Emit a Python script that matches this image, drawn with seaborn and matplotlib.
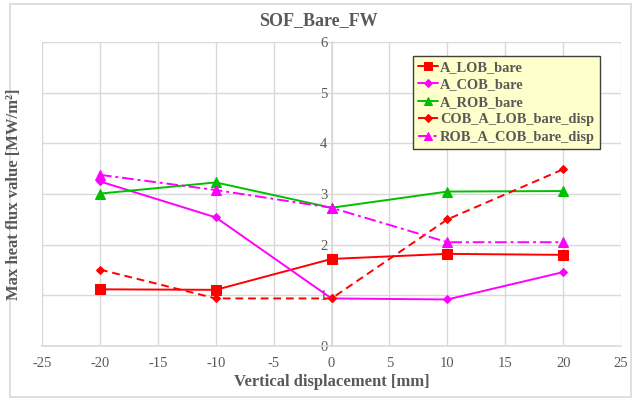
#!/usr/bin/env python3

import matplotlib
matplotlib.use("Agg")
import matplotlib.pyplot as plt
from matplotlib.patches import Rectangle
import pandas as pd
import seaborn as sns

# Data
displacement = [-20, -10, 0, 10, 20]
a_lob_bare = [1.12, 1.11, 1.72, 1.82, 1.80]
a_cob_bare = [3.25, 2.54, 0.94, 0.92, 1.46]
a_rob_bare = [3.01, 3.23, 2.73, 3.05, 3.06]
cob_a_lob_bare_disp = [1.51, 0.94, 0.94, 2.50, 3.49]
rob_a_cob_bare_disp = [3.38, 3.08, 2.73, 2.05, 2.05]

series_names = ["A_LOB_bare", "A_COB_bare", "A_ROB_bare",
                "COB_A_LOB_bare_disp", "ROB_A_COB_bare_disp"]
series_values = [a_lob_bare, a_cob_bare, a_rob_bare,
                 cob_a_lob_bare_disp, rob_a_cob_bare_disp]

x_ticks = list(range(-25, 30, 5))
y_ticks = list(range(0, 7))

TEXT = "#595959"
GRID = "#D9D9D9"

sns.set_theme(style="white")
plt.rcParams["font.family"] = ["Liberation Serif", "DejaVu Serif"]
plt.rcParams["axes.unicode_minus"] = False

# styles per series: colour, marker, marker size, dashes
STYLES = {
    "A_LOB_bare": ("#FF0000", "s", 6.5, ""),
    "A_COB_bare": ("#FF00FF", "D", 4.5, ""),
    "A_ROB_bare": ("#00C000", "^", 6.5, ""),
    "COB_A_LOB_bare_disp": ("#FF0000", "D", 4.5, (4, 2.5)),
    "ROB_A_COB_bare_disp": ("#FF00FF", "^", 6.5, (6, 2, 1.5, 2)),
}

rows = []
for name, vals in zip(series_names, series_values):
    for x, y in zip(displacement, vals):
        rows.append({"disp": x, "value": y, "series": name})
df = pd.DataFrame(rows)

fig = plt.figure(figsize=(6.37, 4.01), dpi=100)
ax = fig.add_axes([0.066, 0.137, 0.909, 0.758])

for name in series_names:
    color, marker, ms, dashes = STYLES[name]
    sub = df[df["series"] == name]
    sns.lineplot(data=sub, x="disp", y="value", ax=ax, color=color,
                 marker=marker, markersize=ms, markeredgecolor=color,
                 linewidth=1.4, label=name, zorder=3)
    l = ax.lines[-1]
    if dashes:
        l.set_dashes(dashes)

ax.set_xlim(-25, 25)
ax.set_ylim(0, 6)
ax.set_xticks(x_ticks)
ax.set_yticks(y_ticks)
ax.grid(True, color=GRID, linewidth=1)
ax.set_axisbelow(True)

for s in ["top", "right"]:
    ax.spines[s].set_visible(False)
ax.spines["left"].set_position(("data", 0))
ax.spines["left"].set_color(GRID)
ax.spines["left"].set_linewidth(1.2)
ax.spines["bottom"].set_color(GRID)
ax.spines["bottom"].set_linewidth(1.2)

ax.tick_params(axis="both", colors=TEXT, labelsize=10.5, length=0)
ax.tick_params(axis="x", pad=8)
ax.tick_params(axis="y", pad=3)

ax.set_xlabel("Vertical displacement [mm]", color=TEXT, fontsize=12,
              fontweight="bold", labelpad=3)
ax.set_ylabel("")
fig.text(0.022, 0.516, "Max heat flux value [MW/m²]", color=TEXT,
         fontsize=12, fontweight="bold", rotation=90, ha="center", va="center")
fig.text(0.5, 0.95, "SOF_Bare_FW", color=TEXT, fontsize=13,
         fontweight="bold", ha="center", va="center")

leg = ax.legend(loc="upper left", bbox_to_anchor=(0.64, 0.955),
                frameon=True, fancybox=False, fontsize=10.4,
                handlelength=1.4, handletextpad=0.15, borderpad=0.35,
                labelspacing=0.3, borderaxespad=0, markerscale=0.85)
leg.get_frame().set_facecolor("#FFFFCC")
leg.get_frame().set_edgecolor("#404040")
leg.get_frame().set_linewidth(1)
leg.get_frame().set_alpha(1)
for t in leg.get_texts():
    t.set_color(TEXT)
    t.set_fontweight("bold")

# chart border
fig.patches.append(Rectangle((0.015, 0.01), 0.975, 0.98, transform=fig.transFigure,
                             fill=False, edgecolor=GRID, linewidth=1.2))

fig.savefig("out.png", dpi=100)
